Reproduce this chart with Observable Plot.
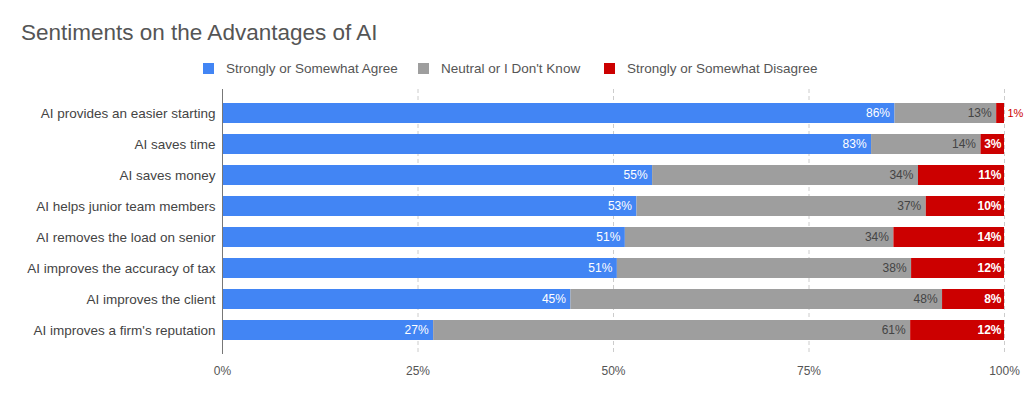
<!DOCTYPE html>
<html>
<head>
<meta charset="utf-8">
<script src="https://cdn.jsdelivr.net/npm/d3@7"></script>
<script src="https://cdn.jsdelivr.net/npm/@observablehq/plot@0.6"></script>
<style>
  body { margin: 0; background: #fff; font-family: "Liberation Sans", Arial, sans-serif; }
  #wrap { position: relative; width: 1024px; height: 396px; overflow: hidden; }
  #title { position: absolute; left: 21px; top: 20px; font-size: 22.5px; color: #555; white-space: nowrap; }
  .leg { position: absolute; top: 61px; font-size: 13.5px; color: #555; white-space: nowrap; display: flex; align-items: center; }
  .sw { width: 11px; height: 11px; margin-right: 12px; display: inline-block; }
  #chart { position: absolute; left: 0; top: 86px; }
</style>
</head>
<body>
<div id="wrap">
  <div id="title">Sentiments on the Advantages of AI</div>
  <div id="legend"></div>
  <div id="chart"></div>
</div>
<script>
const questions = [
  "AI provides an easier starting",
  "AI saves time",
  "AI saves money",
  "AI helps junior team members",
  "AI removes the load on senior",
  "AI improves the accuracy of tax",
  "AI improves the client",
  "AI improves a firm's reputation"
];
const categories = ["Strongly or Somewhat Agree", "Neutral or I Don't Know", "Strongly or Somewhat Disagree"];
const colors = ["#4285f4", "#9e9e9e", "#cc0000"];
const agree    = [86, 83, 55, 53, 51, 51, 45, 27];
const neutral  = [13, 14, 34, 37, 34, 38, 48, 61];
const disagree = [1, 3, 11, 10, 14, 12, 8, 12];
const xTicks = [0, 0.25, 0.5, 0.75, 1];
const xTickLabels = ["0%", "25%", "50%", "75%", "100%"];

const series = [agree, neutral, disagree];
const data = [];
questions.forEach((q, i) => {
  categories.forEach((c, j) => data.push({question: q, cat: c, value: series[j][i]}));
});

// legend
const legendX = [203, 418, 604];
const legend = document.getElementById("legend");
categories.forEach((c, j) => {
  const d = document.createElement("div");
  d.className = "leg";
  d.style.left = legendX[j] + "px";
  d.innerHTML = `<span class="sw" style="background:${colors[j]}"></span><span>${c.replace(/'/g, "&#39;")}</span>`;
  legend.appendChild(d);
});

const stackOpts = {x: "value", y: "question", z: "cat", offset: "normalize", order: categories};
const labelText = d => d.value + "%";

const plot = Plot.plot({
  width: 1024,
  height: 310,
  marginLeft: 222,
  marginRight: 20,
  marginTop: 3,
  marginBottom: 42,
  style: {fontFamily: "Liberation Sans, Arial, sans-serif", overflow: "visible"},
  x: {domain: [0, 1], axis: null},
  y: {domain: questions, padding: 0.36, axis: null},
  color: {domain: categories, range: colors},
  marks: [
    Plot.ruleX(xTicks.slice(1), {stroke: "#cccccc", strokeDasharray: "4,3", strokeWidth: 1}),
    Plot.barX(data, Plot.stackX({...stackOpts, fill: "cat"})),
    Plot.ruleX([0], {stroke: "#777", strokeWidth: 1}),
    Plot.axisY({tickSize: 0, tickPadding: 7, fontSize: 13.5, color: "#444", label: null}),
    Plot.axisX({ticks: xTicks, tickFormat: (d) => xTickLabels[xTicks.indexOf(d)], tickSize: 0, tickPadding: 12, fontSize: 12, color: "#555", label: null}),
    Plot.text(data, Plot.filter(d => d.cat === categories[0], Plot.stackX2({...stackOpts, text: labelText, textAnchor: "end", dx: -5, fill: "white", fontSize: 12}))),
    Plot.text(data, Plot.filter(d => d.cat === categories[1], Plot.stackX2({...stackOpts, text: labelText, textAnchor: "end", dx: -5, fill: "#444", fontSize: 12}))),
    Plot.text(data, Plot.filter(d => d.cat === categories[2] && d.value >= 3, Plot.stackX2({...stackOpts, text: labelText, textAnchor: "end", dx: -3, fill: "white", fontSize: 12, fontWeight: "bold"}))),
    Plot.text(data, Plot.filter(d => d.cat === categories[2] && d.value < 3, Plot.stackX2({...stackOpts, text: labelText, textAnchor: "start", dx: 3, fill: "#cc0000", fontSize: 11})))
  ]
});
document.getElementById("chart").appendChild(plot);
</script>
</body>
</html>
